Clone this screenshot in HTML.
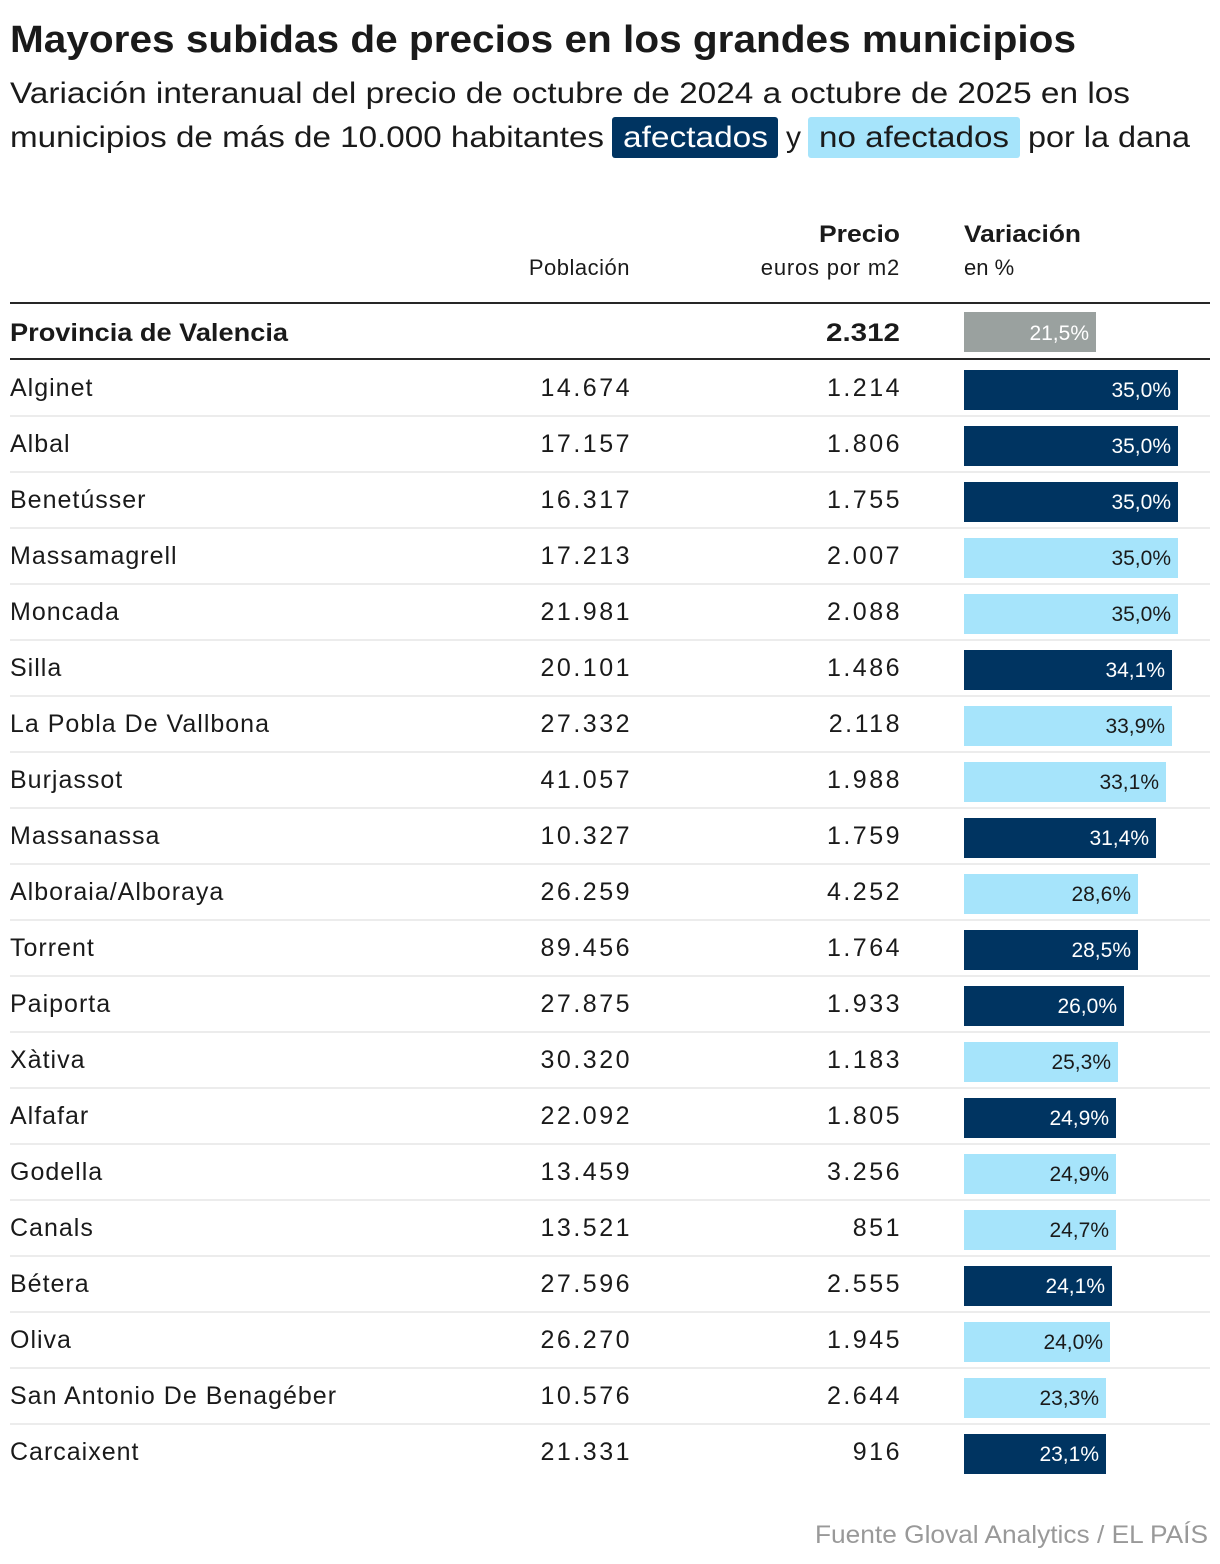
<!DOCTYPE html>
<html><head><meta charset="utf-8"><style>
html,body{margin:0;padding:0;background:#fff;}
svg{display:block;}
text{font-family:"Liberation Sans",sans-serif;fill:#1a1a1a;}
.n{font-size:25px;letter-spacing:1px;}
.r{font-size:25px;text-anchor:end;letter-spacing:2.5px;}
.p{font-size:21px;text-anchor:end;}
.pw{font-size:21px;text-anchor:end;fill:#fff;}
.sep{fill:#ececec;}
.dk{fill:#003461;}
.lt{fill:#a6e4fb;}
</style></head><body>
<svg width="1220" height="1564" xmlns="http://www.w3.org/2000/svg">
<text x="10" y="52" font-size="38" font-weight="bold" textLength="1066" lengthAdjust="spacingAndGlyphs">Mayores subidas de precios en los grandes municipios</text>
<text x="10" y="103" font-size="30" textLength="1120" lengthAdjust="spacingAndGlyphs">Variación interanual del precio de octubre de 2024 a octubre de 2025 en los</text>
<text x="10" y="147" font-size="30" textLength="594" lengthAdjust="spacingAndGlyphs">municipios de más de 10.000 habitantes</text>
<rect x="612" y="117" width="166" height="41" rx="3" fill="#003461"/>
<text x="623" y="147" font-size="30" style="fill:#fff" textLength="145" lengthAdjust="spacingAndGlyphs">afectados</text>
<text x="786" y="147" font-size="30" textLength="15" lengthAdjust="spacingAndGlyphs">y</text>
<rect x="808" y="117" width="212" height="41" rx="3" fill="#a6e4fb"/>
<text x="819" y="147" font-size="30" textLength="190" lengthAdjust="spacingAndGlyphs">no afectados</text>
<text x="1028" y="147" font-size="30" textLength="162" lengthAdjust="spacingAndGlyphs">por la dana</text>

<text x="900" y="242" font-size="24" font-weight="bold" text-anchor="end" textLength="81" lengthAdjust="spacingAndGlyphs">Precio</text>
<text x="964" y="242" font-size="24" font-weight="bold" textLength="117" lengthAdjust="spacingAndGlyphs">Variación</text>
<text x="630" y="275" font-size="22" text-anchor="end" letter-spacing="0.5">Población</text>
<text x="900" y="275" font-size="22" text-anchor="end" letter-spacing="0.8">euros por m2</text>
<text x="964" y="275" font-size="22">en %</text>

<rect x="10" y="302" width="1200" height="2" fill="#262626"/>
<text x="10" y="341" font-size="25" font-weight="bold" textLength="278" lengthAdjust="spacingAndGlyphs">Provincia de Valencia</text>
<text x="900" y="341" font-size="25" font-weight="bold" text-anchor="end" textLength="74" lengthAdjust="spacingAndGlyphs">2.312</text>
<rect x="964" y="312" width="132" height="40" fill="#9aa19f"/>
<text x="1089" y="340" font-size="21" text-anchor="end" style="fill:#fff">21,5%</text>
<rect x="10" y="358" width="1200" height="2" fill="#262626"/>

<g transform="translate(0,387)"><rect class="sep" x="10" y="28" width="1200" height="2"/><text class="n" x="10" y="9">Alginet</text><text class="r" x="632" y="9">14.674</text><text class="r" x="902" y="9">1.214</text><rect class="dk" x="964" y="-17" width="214" height="40"/><text class="pw" x="1171" y="10">35,0%</text></g>
<g transform="translate(0,443)"><rect class="sep" x="10" y="28" width="1200" height="2"/><text class="n" x="10" y="9">Albal</text><text class="r" x="632" y="9">17.157</text><text class="r" x="902" y="9">1.806</text><rect class="dk" x="964" y="-17" width="214" height="40"/><text class="pw" x="1171" y="10">35,0%</text></g>
<g transform="translate(0,499)"><rect class="sep" x="10" y="28" width="1200" height="2"/><text class="n" x="10" y="9">Benetússer</text><text class="r" x="632" y="9">16.317</text><text class="r" x="902" y="9">1.755</text><rect class="dk" x="964" y="-17" width="214" height="40"/><text class="pw" x="1171" y="10">35,0%</text></g>
<g transform="translate(0,555)"><rect class="sep" x="10" y="28" width="1200" height="2"/><text class="n" x="10" y="9">Massamagrell</text><text class="r" x="632" y="9">17.213</text><text class="r" x="902" y="9">2.007</text><rect class="lt" x="964" y="-17" width="214" height="40"/><text class="p" x="1171" y="10">35,0%</text></g>
<g transform="translate(0,611)"><rect class="sep" x="10" y="28" width="1200" height="2"/><text class="n" x="10" y="9">Moncada</text><text class="r" x="632" y="9">21.981</text><text class="r" x="902" y="9">2.088</text><rect class="lt" x="964" y="-17" width="214" height="40"/><text class="p" x="1171" y="10">35,0%</text></g>
<g transform="translate(0,667)"><rect class="sep" x="10" y="28" width="1200" height="2"/><text class="n" x="10" y="9">Silla</text><text class="r" x="632" y="9">20.101</text><text class="r" x="902" y="9">1.486</text><rect class="dk" x="964" y="-17" width="208" height="40"/><text class="pw" x="1165" y="10">34,1%</text></g>
<g transform="translate(0,723)"><rect class="sep" x="10" y="28" width="1200" height="2"/><text class="n" x="10" y="9">La Pobla De Vallbona</text><text class="r" x="632" y="9">27.332</text><text class="r" x="902" y="9">2.118</text><rect class="lt" x="964" y="-17" width="208" height="40"/><text class="p" x="1165" y="10">33,9%</text></g>
<g transform="translate(0,779)"><rect class="sep" x="10" y="28" width="1200" height="2"/><text class="n" x="10" y="9">Burjassot</text><text class="r" x="632" y="9">41.057</text><text class="r" x="902" y="9">1.988</text><rect class="lt" x="964" y="-17" width="202" height="40"/><text class="p" x="1159" y="10">33,1%</text></g>
<g transform="translate(0,835)"><rect class="sep" x="10" y="28" width="1200" height="2"/><text class="n" x="10" y="9">Massanassa</text><text class="r" x="632" y="9">10.327</text><text class="r" x="902" y="9">1.759</text><rect class="dk" x="964" y="-17" width="192" height="40"/><text class="pw" x="1149" y="10">31,4%</text></g>
<g transform="translate(0,891)"><rect class="sep" x="10" y="28" width="1200" height="2"/><text class="n" x="10" y="9">Alboraia/Alboraya</text><text class="r" x="632" y="9">26.259</text><text class="r" x="902" y="9">4.252</text><rect class="lt" x="964" y="-17" width="174" height="40"/><text class="p" x="1131" y="10">28,6%</text></g>
<g transform="translate(0,947)"><rect class="sep" x="10" y="28" width="1200" height="2"/><text class="n" x="10" y="9">Torrent</text><text class="r" x="632" y="9">89.456</text><text class="r" x="902" y="9">1.764</text><rect class="dk" x="964" y="-17" width="174" height="40"/><text class="pw" x="1131" y="10">28,5%</text></g>
<g transform="translate(0,1003)"><rect class="sep" x="10" y="28" width="1200" height="2"/><text class="n" x="10" y="9">Paiporta</text><text class="r" x="632" y="9">27.875</text><text class="r" x="902" y="9">1.933</text><rect class="dk" x="964" y="-17" width="160" height="40"/><text class="pw" x="1117" y="10">26,0%</text></g>
<g transform="translate(0,1059)"><rect class="sep" x="10" y="28" width="1200" height="2"/><text class="n" x="10" y="9">Xàtiva</text><text class="r" x="632" y="9">30.320</text><text class="r" x="902" y="9">1.183</text><rect class="lt" x="964" y="-17" width="154" height="40"/><text class="p" x="1111" y="10">25,3%</text></g>
<g transform="translate(0,1115)"><rect class="sep" x="10" y="28" width="1200" height="2"/><text class="n" x="10" y="9">Alfafar</text><text class="r" x="632" y="9">22.092</text><text class="r" x="902" y="9">1.805</text><rect class="dk" x="964" y="-17" width="152" height="40"/><text class="pw" x="1109" y="10">24,9%</text></g>
<g transform="translate(0,1171)"><rect class="sep" x="10" y="28" width="1200" height="2"/><text class="n" x="10" y="9">Godella</text><text class="r" x="632" y="9">13.459</text><text class="r" x="902" y="9">3.256</text><rect class="lt" x="964" y="-17" width="152" height="40"/><text class="p" x="1109" y="10">24,9%</text></g>
<g transform="translate(0,1227)"><rect class="sep" x="10" y="28" width="1200" height="2"/><text class="n" x="10" y="9">Canals</text><text class="r" x="632" y="9">13.521</text><text class="r" x="902" y="9">851</text><rect class="lt" x="964" y="-17" width="152" height="40"/><text class="p" x="1109" y="10">24,7%</text></g>
<g transform="translate(0,1283)"><rect class="sep" x="10" y="28" width="1200" height="2"/><text class="n" x="10" y="9">Bétera</text><text class="r" x="632" y="9">27.596</text><text class="r" x="902" y="9">2.555</text><rect class="dk" x="964" y="-17" width="148" height="40"/><text class="pw" x="1105" y="10">24,1%</text></g>
<g transform="translate(0,1339)"><rect class="sep" x="10" y="28" width="1200" height="2"/><text class="n" x="10" y="9">Oliva</text><text class="r" x="632" y="9">26.270</text><text class="r" x="902" y="9">1.945</text><rect class="lt" x="964" y="-17" width="146" height="40"/><text class="p" x="1103" y="10">24,0%</text></g>
<g transform="translate(0,1395)"><rect class="sep" x="10" y="28" width="1200" height="2"/><text class="n" x="10" y="9">San Antonio De Benagéber</text><text class="r" x="632" y="9">10.576</text><text class="r" x="902" y="9">2.644</text><rect class="lt" x="964" y="-17" width="142" height="40"/><text class="p" x="1099" y="10">23,3%</text></g>
<g transform="translate(0,1451)"><text class="n" x="10" y="9">Carcaixent</text><text class="r" x="632" y="9">21.331</text><text class="r" x="902" y="9">916</text><rect class="dk" x="964" y="-17" width="142" height="40"/><text class="pw" x="1099" y="10">23,1%</text></g>

<text x="1208" y="1543" font-size="25" text-anchor="end" style="fill:#999" textLength="393" lengthAdjust="spacingAndGlyphs">Fuente Gloval Analytics / EL PAÍS</text>
</svg>
</body></html>
